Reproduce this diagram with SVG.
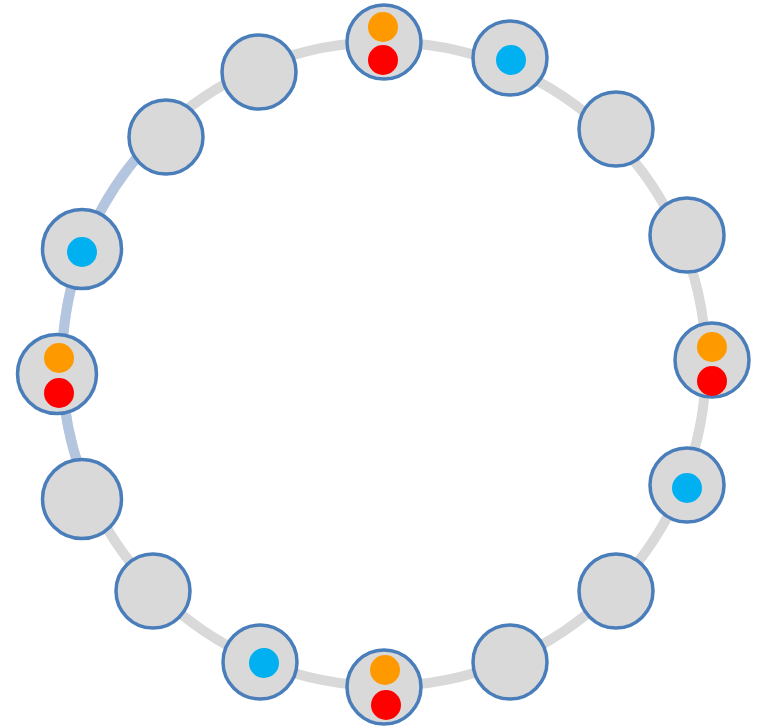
<svg xmlns="http://www.w3.org/2000/svg" width="763" height="727" viewBox="0 0 763 727">
<style>
.ring{fill:none;stroke:#D9D9D9;stroke-width:10}
.ringb{fill:none;stroke:#B4C5E0;stroke-width:10}
.node circle.n{fill:#D9D9D9;stroke:#4A7EBB;stroke-width:3.5}
.o{fill:#FF9900}.r{fill:#FF0000}.b{fill:#00B0F0}
</style>
<rect width="763" height="727" fill="#FFFFFF"/>
<g id="connectors">
<circle class="ring" cx="384" cy="364" r="322"/>
<path class="ringb" d="M 90.0 495.5 A 322 322 0 0 1 161.1 131.6"/>
</g>
<g id="n1" class="node"><circle class="n" cx="384" cy="42" r="37"/><circle class="o" cx="383" cy="27" r="15"/><circle class="r" cx="383" cy="60" r="15"/></g>
<g id="n2" class="node"><circle class="n" cx="510" cy="58" r="37"/><circle class="b" cx="511" cy="60" r="15"/></g>
<g id="n3" class="node"><circle class="n" cx="616" cy="129" r="37"/></g>
<g id="n4" class="node"><circle class="n" cx="687" cy="235" r="37"/></g>
<g id="n5" class="node"><circle class="n" cx="712" cy="360" r="37"/><circle class="o" cx="712" cy="347" r="15"/><circle class="r" cx="712" cy="381" r="15"/></g>
<g id="n6" class="node"><circle class="n" cx="687" cy="485" r="37"/><circle class="b" cx="687" cy="488" r="15"/></g>
<g id="n7" class="node"><circle class="n" cx="616" cy="591" r="37"/></g>
<g id="n8" class="node"><circle class="n" cx="510" cy="662" r="37"/></g>
<g id="n9" class="node"><circle class="n" cx="384" cy="687" r="37"/><circle class="o" cx="385" cy="670" r="15"/><circle class="r" cx="386" cy="705" r="15"/></g>
<g id="n10" class="node"><circle class="n" cx="260" cy="662" r="37"/><circle class="b" cx="264" cy="663" r="15"/></g>
<g id="n11" class="node"><circle class="n" cx="153" cy="591" r="37"/></g>
<g id="n12" class="node"><circle class="n" cx="82" cy="499" r="39.5"/></g>
<g id="n13" class="node"><circle class="n" cx="57" cy="374" r="39.5"/><circle class="o" cx="59" cy="358" r="15"/><circle class="r" cx="59" cy="393" r="15"/></g>
<g id="n14" class="node"><circle class="n" cx="82" cy="249" r="39.5"/><circle class="b" cx="82" cy="252" r="15"/></g>
<g id="n15" class="node"><circle class="n" cx="166" cy="137" r="37"/></g>
<g id="n16" class="node"><circle class="n" cx="259" cy="72" r="37"/></g>
</svg>
